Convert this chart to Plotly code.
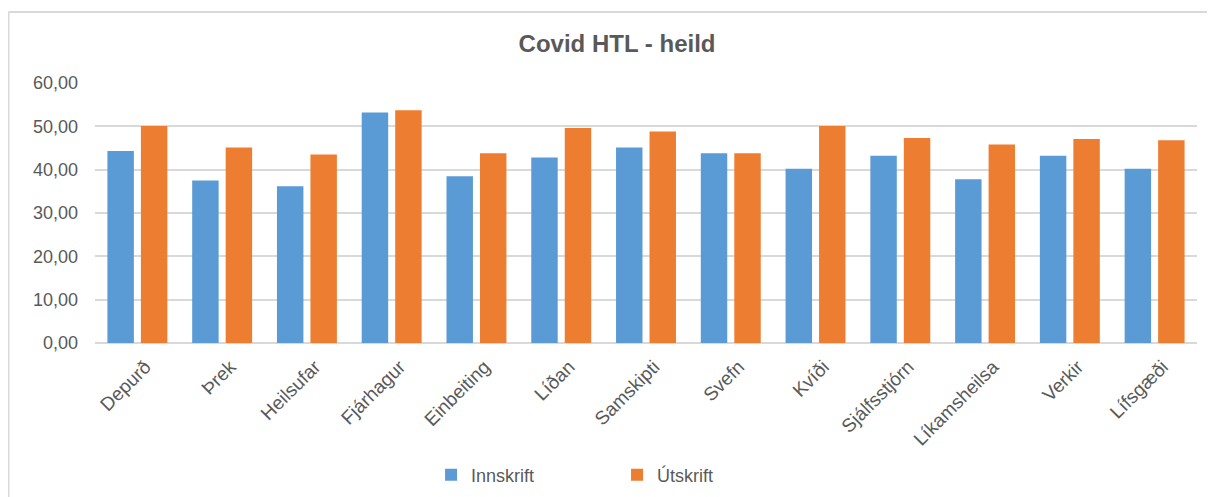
import plotly.graph_objects as go

categories = ["Depurð", "Þrek", "Heilsufar", "Fjárhagur", "Einbeiting", "Líðan",
              "Samskipti", "Svefn", "Kvíði", "Sjálfsstjórn", "Líkamsheilsa",
              "Verkir", "Lífsgæði"]
innskrift = [44.3, 37.5, 36.2, 53.2, 38.5, 42.8, 45.1, 43.8, 40.2, 43.2, 37.8, 43.2, 40.2]
utskrift = [50.1, 45.1, 43.5, 53.7, 43.8, 49.6, 48.8, 43.8, 50.1, 47.3, 45.8, 47.1, 46.8]
y_ticks = [0, 10, 20, 30, 40, 50, 60]
y_labels = ["0,00", "10,00", "20,00", "30,00", "40,00", "50,00", "60,00"]

gray = "#595959"
grid = "#d9d9d9"

fig = go.Figure()
fig.add_trace(go.Bar(x=categories, y=innskrift, name="Innskrift",
                     marker=dict(color="#5b9bd5", line=dict(width=0))))
fig.add_trace(go.Bar(x=categories, y=utskrift, name="Útskrift",
                     marker=dict(color="#ed7d31", line=dict(width=0))))

# chart frame (left + top edges)
fig.add_shape(type="line", xref="paper", yref="paper", x0=-0.0785, x1=-0.0785,
              y0=1.273, y1=-0.6, line=dict(color=grid, width=2))
fig.add_shape(type="line", xref="paper", yref="paper", x0=-0.0785, x1=1.02,
              y0=1.273, y1=1.273, line=dict(color=grid, width=2))

# page has an 8px body margin, so the figure is 8px smaller than the window
fig.update_layout(
    width=1207, height=489,
    margin=dict(l=87, r=18, t=75, b=154, autoexpand=False),
    paper_bgcolor="white", plot_bgcolor="white",
    font=dict(family="Liberation Sans, Arial, sans-serif", color=gray, size=18),
    title=dict(text="<b>Covid HTL - heild</b>", x=0.5046, xanchor="center",
               y=1 - 36 / 489, yanchor="middle", yref="container",
               font=dict(size=24, color=gray)),
    barmode="group", bargap=0.21, bargroupgap=0.21,
    showlegend=True,
    legend=dict(orientation="h", xref="container", yref="container",
                x=0.5046, xanchor="center", y=1 - 467 / 489, yanchor="middle",
                font=dict(size=18, color=gray), itemwidth=30, traceorder="normal",
                entrywidth=141, entrywidthmode="pixels"),
    xaxis=dict(tickangle=-45, showline=False, ticks="", showgrid=False,
               automargin=False, ticklabelstandoff=8, ticklabelshift=8,
               tickfont=dict(size=19, color=gray)),
    yaxis=dict(range=[0, 60], tickvals=y_ticks, ticktext=y_labels, showgrid=True,
               gridcolor=grid, gridwidth=1.5, zeroline=True, zerolinecolor=grid,
               zerolinewidth=1.5, showline=False, ticks="", ticklen=0,
               automargin=False, ticklabelstandoff=16,
               tickfont=dict(size=18, color=gray)),
)

fig.write_html("out.html")
